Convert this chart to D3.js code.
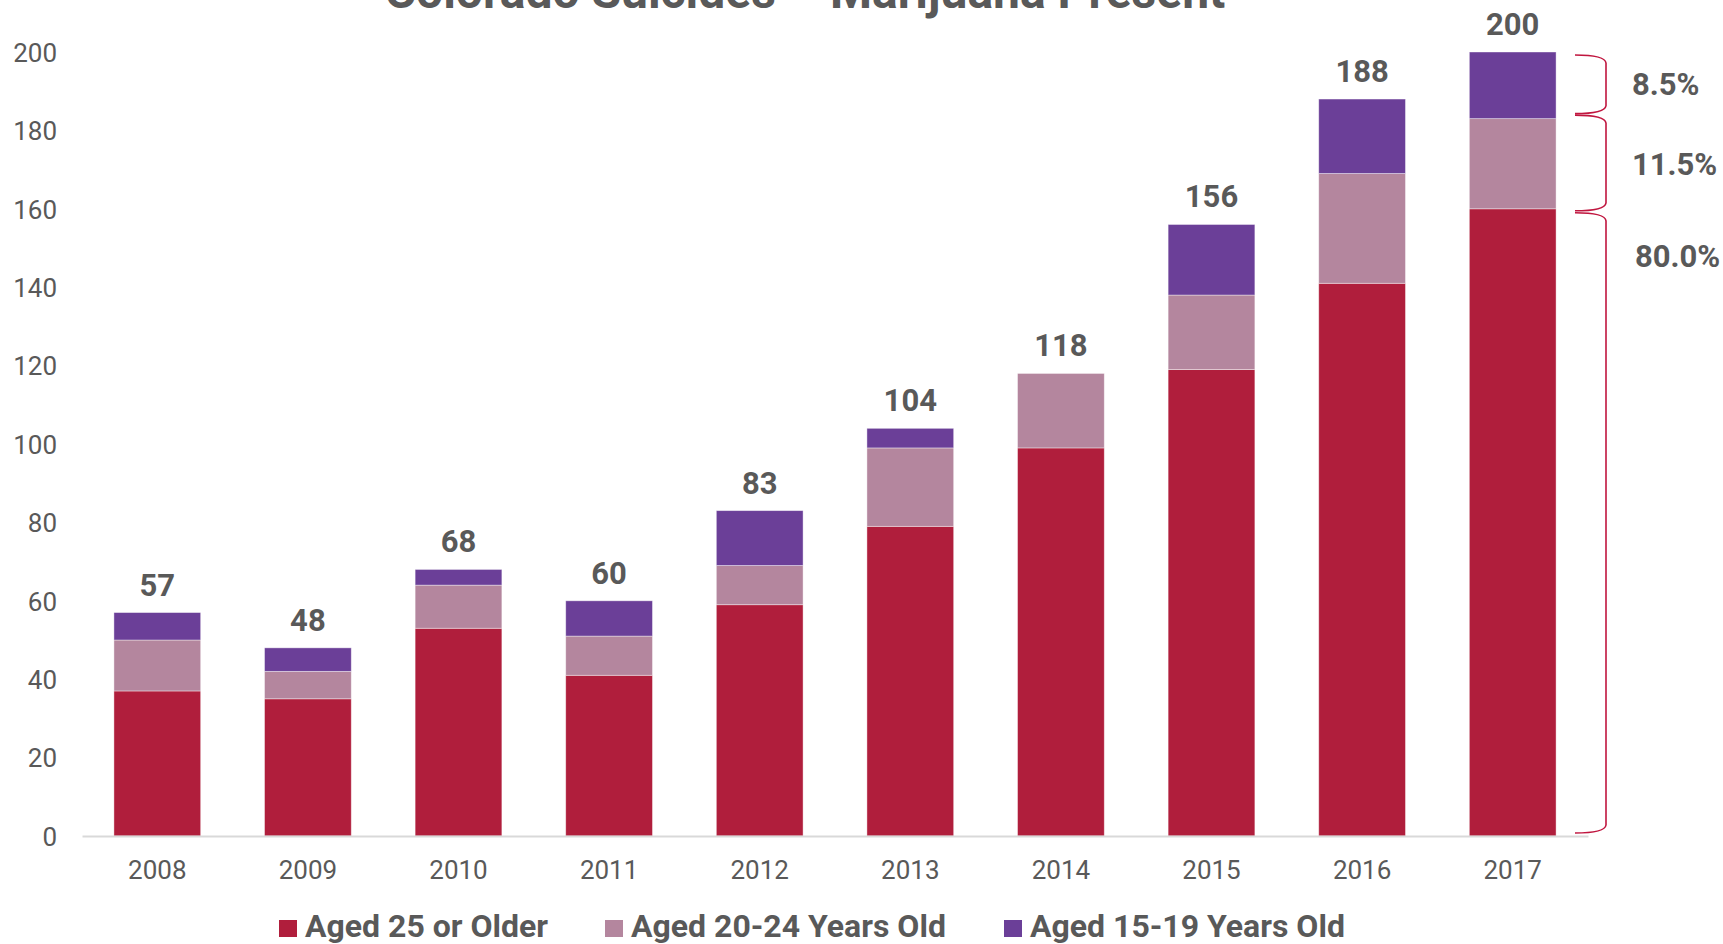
<!DOCTYPE html>
<html>
<head>
<meta charset="utf-8">
<script src="https://cdn.jsdelivr.net/npm/d3@7"></script>
<style>
  html, body { margin: 0; padding: 0; background: #fff; }
  svg { display: block; font-family: Roboto, "Noto Sans", sans-serif; }
</style>
</head>
<body>
<svg id="chart" width="1723" height="944"></svg>
<script>
// ---- data ----
const years = ["2008","2009","2010","2011","2012","2013","2014","2015","2016","2017"];
const aged25plus = [37, 35, 53, 41, 59, 79, 99, 119, 141, 160];
const aged20to24 = [13, 7, 11, 10, 10, 20, 19, 19, 28, 23];
const aged15to19 = [7, 6, 4, 9, 14, 5, 0, 18, 19, 17];
const totals = [57, 48, 68, 60, 83, 104, 118, 156, 188, 200];
const seriesNames = ["Aged 25 or Older", "Aged 20-24 Years Old", "Aged 15-19 Years Old"];
const yTicks = [0, 20, 40, 60, 80, 100, 120, 140, 160, 180, 200];
const shareLabels = ["80.0%", "11.5%", "8.5%"];
const titleText = "Colorado Suicides \u2013 Marijuana Present";

// ---- styles ----
const colors = ["#B01E3C", "#B4869E", "#6B3F98"];
const textColor = "#595959";

const svg = d3.select("#chart");

const x = d3.scaleBand().domain(years).range([82, 1588]).paddingInner(0.424).paddingOuter(0.212);
const y = d3.scaleLinear().domain([0, 200]).range([836, 52]);

const rows = years.map((yr, i) => ({ year: yr, s0: aged25plus[i], s1: aged20to24[i], s2: aged15to19[i] }));
const stack = d3.stack().keys(["s0", "s1", "s2"]);
const stacked = stack(rows);

// title
svg.append("text")
  .attr("x", 805).attr("y", 8)
  .attr("text-anchor", "middle")
  .attr("font-weight", "bold")
  .attr("font-size", 48)
  .attr("fill", textColor)
  .text(titleText);

// y axis labels
const yAxis = d3.axisLeft(y).tickValues(yTicks).tickSize(0).tickPadding(0);
const gy = svg.append("g").attr("transform", "translate(57,0)").call(yAxis);
gy.select(".domain").remove();
gy.selectAll("text")
  .attr("font-size", 26).attr("fill", textColor)
  .attr("font-family", "Roboto, sans-serif")
  .attr("dy", "0.36em");

// bars
svg.append("g").selectAll("g")
  .data(stacked).join("g")
  .attr("fill", (d, i) => colors[i])
  .selectAll("rect")
  .data(d => d).join("rect")
  .attr("x", d => x(d.data.year))
  .attr("width", x.bandwidth())
  .attr("y", d => y(d[1]))
  .attr("height", d => y(d[0]) - y(d[1]))
  .attr("stroke", "#ffffff").attr("stroke-opacity", 0.5).attr("stroke-width", 0.8);

// x axis line + labels
const xAxis = d3.axisBottom(x).tickSize(0).tickPadding(0);
const gx = svg.append("g").attr("transform", `translate(0,${y(0)})`).call(xAxis);
gx.select(".domain").attr("stroke", "#D9D9D9").attr("stroke-width", 2);
gx.selectAll("text")
  .attr("font-size", 26).attr("fill", textColor)
  .attr("font-family", "Roboto, sans-serif")
  .attr("y", 43).attr("dy", 0);

// total labels
svg.append("g").selectAll("text")
  .data(totals).join("text")
  .attr("x", (d, i) => x(years[i]) + x.bandwidth() / 2)
  .attr("y", d => y(d) - 17)
  .attr("text-anchor", "middle")
  .attr("font-weight", "bold")
  .attr("font-size", 31)
  .attr("fill", textColor)
  .text(d => d);

// braces for 2017 shares
const last = years.length - 1;
const segs = [
  { lo: 0, hi: aged25plus[last], inTop: 4, inBot: 3 },
  { lo: aged25plus[last], hi: aged25plus[last] + aged20to24[last], inTop: -3.5, inBot: -2 },
  { lo: aged25plus[last] + aged20to24[last], hi: totals[last], inTop: 3, inBot: 5 }
];
const bx0 = 1575, bx1 = 1606;
segs.forEach(s => {
  const top = y(s.hi) + s.inTop, bot = y(s.lo) - s.inBot;
  const p = d3.path();
  p.moveTo(bx0, top);
  p.quadraticCurveTo(bx1 - 1, top, bx1, top + 8);
  p.lineTo(bx1, bot - 8);
  p.quadraticCurveTo(bx1 - 1, bot, bx0, bot);
  svg.append("path").attr("d", p.toString())
    .attr("fill", "none").attr("stroke", "#C0163F").attr("stroke-width", 1.6);
});
const shareY = [256, 164, 84];
const shareX = [1635, 1632, 1632];
shareLabels.forEach((t, i) => {
  svg.append("text")
    .attr("x", shareX[i]).attr("y", shareY[i]).attr("dy", "0.36em")
    .attr("font-weight", "bold").attr("font-size", 31)
    .attr("fill", textColor).text(t);
});

// legend
const legend = svg.append("g");
const legendStarts = [279, 605, 1004];
seriesNames.forEach((n, i) => {
  const g = legend.append("g").attr("transform", `translate(${legendStarts[i]},937)`);
  g.append("rect").attr("x", 0).attr("y", -17).attr("width", 18).attr("height", 17).attr("fill", colors[i]);
  g.append("text").attr("x", 26).attr("y", 0)
    .attr("font-weight", "bold").attr("font-size", 32)
    .attr("fill", textColor).text(n);
});
</script>
</body>
</html>
